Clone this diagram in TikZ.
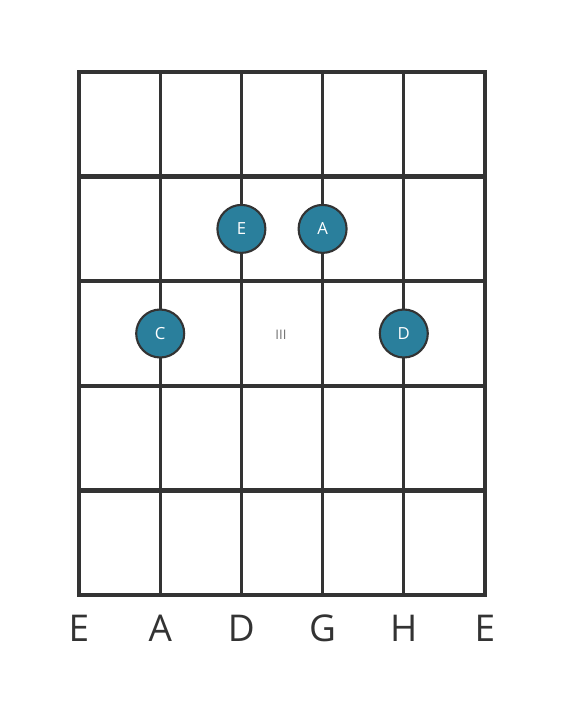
\documentclass[tikz,border=0pt]{standalone}
\usepackage{fontspec}
\setmainfont{Open Sans}
\usepackage{tikz}
\usetikzlibrary{calc, positioning}
\definecolor{gridgray}{HTML}{333333}
\definecolor{noteteal}{HTML}{2A7F9C}
\tikzset{
    fretline/.style={draw=gridgray, line width=2.6pt},
    stringline/.style={draw=gridgray, line width=1.8pt},
    fingerdot/.style={circle, draw=gridgray, line width=1.2pt, fill=noteteal,
        minimum size=0.96cm, inner sep=0pt, text=white, font=\fontsize{9.5}{10}\selectfont},
    stringname/.style={text=gridgray, font=\fontsize{21}{22}\selectfont}
}

\begin{document}
\begin{tikzpicture}[x=0.02cm, y=-0.02cm]
        \useasboundingbox (0, 0) rectangle (566, 711);
        % strings
        \foreach \s/\x in {1/79, 2/160.2, 3/241.4, 4/322.6, 5/403.8, 6/485}
            \path [stringline] (\x, 72) coordinate (s\s top) -- (\x, 595) coordinate (s\s bot);
        % frets
        \foreach \f/\y in {0/72, 1/176.6, 2/281.2, 3/385.8, 4/490.4, 5/595}
            \path [fretline] (77, \y) coordinate (f\f left) -- (487, \y) coordinate (f\f right);
        % string names
        \foreach \s/\n in {1/E, 2/A, 3/D, 4/G, 5/H, 6/E}
            \node [stringname, below=0.28cm of s\s bot] (name\s) {\n};
        % position marker
        \node [text=gridgray!70, font=\fontsize{7.5}{8}\selectfont] (pos) at (281, 334.5) {III};
        % notes
        \node [fingerdot] (noteE) at (241.4, 228.9) {E};
        \node [fingerdot] (noteA) at (noteE -| s4top) {A};
        \node [fingerdot] (noteC) at (160.2, 333.5) {C};
        \node [fingerdot] (noteD) at (noteC -| s5top) {D};
\end{tikzpicture}
\end{document}
